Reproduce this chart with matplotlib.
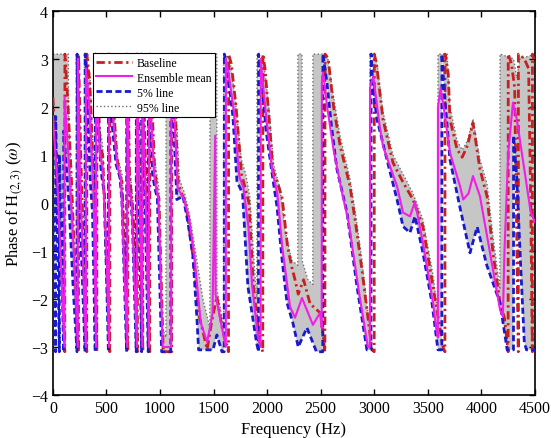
import numpy as np
import matplotlib
matplotlib.use("Agg")
import matplotlib.pyplot as plt

# =========================
# DATA (frequency in Hz, phase in rad)
# =========================
base_f = [0, 30, 70, 111, 112, 140, 175, 200, 239, 240, 260, 316, 317, 345, 380, 410, 411,
          440, 465, 495, 531, 532, 560, 600, 630, 645, 670, 699, 700, 715, 735, 750, 789,
          790, 815, 839, 840, 870, 904, 905, 950, 975, 990, 1030, 1109, 1110, 1130, 1170,
          1200, 1240, 1300, 1370, 1440, 1480, 1530, 1580, 1639, 1640, 1665, 1710, 1760,
          1790, 1830, 1870, 1930, 1959, 1960, 1980, 2020, 2055, 2100, 2140, 2190, 2231,
          2260, 2290, 2340, 2400, 2450, 2500, 2539, 2540, 2570, 2620, 2680, 2773, 2830,
          2885, 2978, 2999, 3000, 3020, 3081, 3174, 3268, 3361, 3454, 3548, 3641, 3659,
          3660, 3690, 3706, 3772, 3820, 3870, 3921, 3986, 4052, 4108, 4173, 4215, 4249,
          4250, 4280, 4310, 4325, 4344, 4345, 4400, 4440, 4460, 4475, 4476, 4500]
base_p = [2.2, 1.0, -0.8, -3.1, 3.1, 2.1, 0.4, -1.0, -3.1, 3.1, 1.0, -3.1, 3.1, 2.5, 0.5, -3.1, 3.1,
          1.2, 1.0, -1.0, -3.1, 3.1, 2.2, 0.9, 0.5, 0.45, -1.0, -3.1, 3.1, 0.6, 0.1, -0.2, -3.1,
          3.1, 0.0, -3.1, 3.1, 0.3, -3.1, 3.1, 0.7, 0.2, 0.1, -3.1, -3.1, 3.1, 2.5, 0.4,
          0.2, 0.0, -1.0, -2.4, -3.05, -2.5, -1.95, -2.6, -3.1, 3.1, 2.9, 2.0, 0.6,
          0.35, 0.0, -1.7, -2.9, -3.1, 3.1, 2.8, 1.7, 0.65, 0.4, 0.1, -0.9, -1.35,
          -1.6, -1.9, -1.6, -2.1, -2.2, -2.3, -3.1, 3.1, 3.0, 2.0, 1.2, 0.35, -0.5,
          -1.4, -3.06, -3.1, 3.1, 2.9, 1.74, 0.84, 0.43, 0.07, -0.49, -1.74, -3.0, -3.1,
          3.1, 2.7, 1.74, 1.12, 0.95, 1.2, 1.67, 0.7, 0.14, -1.04, -2.08, -2.4, -3.1,
          3.1, 2.9, 2.4, 0.0, -3.1, 3.1, 3.0, 2.8, 0.0, -3.1, 3.1, 2.9]

mean_f = [0, 40, 80, 108, 109, 150, 200, 232, 233, 250, 308, 309, 340, 380, 403, 404, 440, 465,
          500, 524, 525, 560, 600, 635, 660, 694, 695, 712, 735, 784, 785, 812, 834, 835, 865,
          897, 898, 945, 968, 985, 1025, 1104, 1105, 1130, 1165, 1220, 1270, 1320, 1380, 1440,
          1490, 1515, 1518, 1560, 1614, 1615, 1640, 1690, 1740, 1780, 1825, 1860, 1915, 1939,
          1940, 1955, 2000, 2045, 2095, 2140, 2213, 2260, 2325, 2427, 2493, 2509, 2510, 2521,
          2560, 2620, 2700, 2760, 2860, 2940, 2959, 2960, 2990, 3050, 3081, 3212, 3268, 3333,
          3380, 3454, 3548, 3580, 3593, 3594, 3620, 3660, 3706, 3800, 3830, 3880, 3921, 3986,
          4080, 4173, 4200, 4215, 4250, 4294, 4330, 4400, 4460, 4500]
mean_p = [1.8, 0.5, -1.5, -3.0, 2.2, 0.8, -1.2, -3.0, 3.0, 0.8, -3.0, 2.8, 2.0, 0.2, -3.0, 2.6, 1.0, 0.7,
          -1.0, -3.0, 2.8, 1.8, 0.8, 0.5, -1.0, -3.0, 2.0, 0.3, 0.0, -3.0, 2.5, 0.0, -3.0, 2.5, 0.2,
          -3.0, 2.5, 0.6, 0.25, 0.1, -3.0, -3.0, 2.8, 2.0, 0.3, 0.1, -0.3, -1.1, -2.5, -2.9,
          -2.3, 1.4, -1.9, -2.4, -3.0, 3.0, 2.7, 1.9, 0.55, 0.3, -0.5, -1.74, -2.8, -3.0,
          3.0, 2.6, 1.6, 0.7, 0.2, -0.9, -2.16, -2.39, -1.98, -2.54, -2.29, -2.6, 2.5, 2.72,
          2.0, 1.1, 0.2, -0.4, -1.9, -3.0, -3.0, 2.4, 2.64, 1.6, 1.18, 0.35, -0.2, -0.28,
          0.03, -0.83, -2.08, -2.64, -2.8, 2.0, 2.4, 1.8, 1.05, 0.35, 0.07, 0.2, 0.56, 0.14,
          -1.04, -2.22, -2.37, -1.0, 1.05, 2.09, 1.74, 0.7, -0.2, -0.4]

p5_f = [0, 25, 26, 60, 61, 100, 101, 150, 190, 225, 226, 240, 300, 301, 310, 350, 370, 395, 396,
        420, 445, 457, 480, 500, 518, 519, 545, 590, 626, 645, 665, 688, 689, 700, 720, 740,
        778, 779, 805, 828, 829, 860, 890, 891, 930, 952, 975, 1015, 1100, 1101, 1120, 1157,
        1214, 1260, 1307, 1344, 1360, 1494, 1531, 1578, 1599, 1600, 1630, 1680, 1718, 1770,
        1820, 1900, 1919, 1920, 1940, 1990, 2040, 2091, 2140, 2185, 2240, 2290, 2371, 2460,
        2519, 2520, 2558, 2600, 2651, 2745, 2838, 2931, 2969, 2970, 2985, 3025, 3118, 3212,
        3268, 3333, 3380, 3454, 3538, 3594, 3630, 3631, 3650, 3706, 3800, 3893, 3960, 4050,
        4173, 4240, 4299, 4300, 4330, 4370, 4400, 4420, 4500]
p5_p = [0.3, -3.1, 1.8, -3.1, 1.0, -3.1, 1.5, 0.0, -1.8, -3.1, 3.1, 0.5, -3.1, 3.1, 2.9, 0.4, -0.2, -3.1, 3.1,
        2.0, 0.8, 0.53, 0.2, -1.5, -3.1, 3.1, 1.8, 0.8, 0.53, 0.0, -1.5, -3.1, 3.1, 0.5, 0.18, -0.3,
        -3.1, 3.1, -0.2, -3.1, 3.1, 0.0, -3.1, 3.1, 0.6, 0.3, 0.1, -3.1, -3.1, 3.1, 2.0, 0.07,
        0.14, -0.4, -1.1, -2.4, -3.06, -3.06, -2.75, -3.1, -3.1, 3.1, 2.75, 1.8, 0.45, 0.2,
        -1.74, -2.9, -3.1, 3.1, 2.75, 1.5, 0.7, -0.07, -1.2, -2.08, -2.5, -3.0, -2.6, -3.1,
        -3.1, 3.1, 2.5, 1.6, 0.7, -0.2, -1.74, -3.06, -3.06, 3.1, 2.43, 1.74, 0.9, 0.07,
        -0.49, -0.62, -0.28, -1.04, -2.08, -3.06, -3.06, 3.1, 2.4, 0.9, -0.1, -1.04, -0.5, -1.3,
        -2.08, -3.06, -3.06, 1.4, 0.5, -1.5, -2.9, -3.06, -3.06]

p95_f = [0, 145, 146, 190, 218, 219, 250, 290, 294, 295, 345, 380, 390, 391, 440, 465, 495, 512,
         513, 560, 600, 645, 670, 684, 685, 710, 715, 750, 772, 773, 815, 822, 823, 870, 884,
         885, 950, 990, 1020, 1055, 1056, 1130, 1180, 1230, 1280, 1330, 1400, 1465, 1466, 1530,
         1531, 1580, 1594, 1595, 1650, 1700, 1760, 1800, 1840, 1880, 1904, 1905, 1965, 2020,
         2060, 2120, 2170, 2230, 2286, 2287, 2325, 2326, 2380, 2426, 2427, 2560, 2620, 2680,
         2773, 2830, 2885, 2940, 2959, 2960, 3020, 3081, 3174, 3268, 3361, 3454, 3548, 3593,
         3594, 3680, 3706, 3772, 3820, 3870, 3921, 3986, 4052, 4108, 4172, 4173, 4300, 4330,
         4360, 4500]
p95_p = [3.1, 3.1, 1.9, -0.5, -2.7, 3.1, 2.0, -2.3, -2.5, 3.1, 2.7, 0.8, -1.5, 3.1, 1.5, 1.2, -0.6, -2.0,
         3.1, 2.4, 1.0, 0.6, -0.6, -2.0, 3.1, 3.1, 0.8, 0.0, -1.8, 3.1, 0.3, -1.0, 3.1, 0.5, -1.0,
         3.1, 0.9, 0.3, -2.6, -2.8, 3.1, 3.0, 0.5, 0.2, -0.3, -1.0, -2.0, -2.6, 3.1, 3.1,
         -1.8, -2.4, -2.6, 3.1, 3.0, 2.2, 0.9, 0.6, 0.1, -1.3, -2.0, 3.1, 3.0, 1.9,
         0.8, 0.3, -0.6, -1.2, -1.3, 3.1, 3.1, -1.2, -1.6, -1.7, 3.1, 3.1, 2.2, 1.4,
         0.5, -0.3, -1.2, -2.3, -2.6, 3.1, 3.0, 1.9, 1.0, 0.6, 0.2, -0.35, -1.5, -2.3,
         3.1, 3.1, 2.0, 1.3, 1.1, 1.3, 1.75, 0.9, 0.4, -0.7, -1.8, 3.1, 3.0, 2.6,
         3.0, 3.1]

# =========================
# PLOT
# =========================
plt.rcParams['font.family'] = ['Liberation Serif', 'DejaVu Serif']
plt.rcParams['mathtext.fontset'] = 'stix'

fig = plt.figure(figsize=(5.51, 4.39), dpi=100)
ax = fig.add_axes([0.096, 0.098, 0.875, 0.875])

# ensemble band between 5% and 95% lines
grid = np.union1d(p5_f, p95_f)
lo = np.interp(grid, p5_f, p5_p)
hi = np.interp(grid, p95_f, p95_p)
ax.fill_between(grid, lo, hi, where=hi >= lo, color='#c6c6c6', lw=0, zorder=1)

ax.plot(base_f, base_p, color='#c8201e', lw=2.0, dashes=(3.0, 1.3, 0.8, 1.3),
        label='Baseline', zorder=3)
ax.plot(mean_f, mean_p, '-', color='#f01ee6', lw=1.5, label='Ensemble mean', zorder=4)
ax.plot(p5_f, p5_p, color='#1a1acc', lw=2.0, dashes=(2.2, 1.2), label='5% line', zorder=3)
ax.plot(p95_f, p95_p, ':', color='#707070', lw=1.0, label='95% line', zorder=2)

ax.set_xlim(0, 4500)
ax.set_ylim(-4, 4)
ax.set_xticks(np.arange(0, 4501, 500))
ax.set_yticks(np.arange(-4, 5, 1))
ax.tick_params(direction='in', top=True, right=True, labelsize=11.5, length=4, width=1)
for s in ax.spines.values():
    s.set_linewidth(1.2)
ax.set_xlabel('Frequency (Hz)', fontsize=12)
ax.set_ylabel(r'Phase of H$_{(2,3)}$ ($\omega$)', fontsize=12)

leg = ax.legend(loc='upper left', bbox_to_anchor=(0.083, 0.89), borderaxespad=0,
                fontsize=8.5, fancybox=False, edgecolor='black', framealpha=1,
                handlelength=3.0, handletextpad=0.4, borderpad=0.3, labelspacing=0.25)
leg.get_frame().set_linewidth(0.8)

fig.savefig('out.png', dpi=100)
